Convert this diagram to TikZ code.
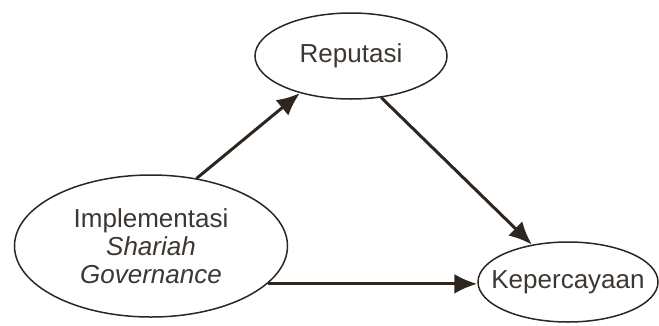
\documentclass[tikz,border=0pt]{standalone}
\usepackage{fontspec}
\setmainfont{Liberation Sans}
\usepackage{tikz}
\usetikzlibrary{shapes.geometric}
\usetikzlibrary{arrows.meta}
\definecolor{brun}{RGB}{45,38,32}
\definecolor{texte}{RGB}{60,55,50}

\begin{document}
\begin{tikzpicture}[x=1pt,y=-1pt,
  bulle/.style={ellipse, draw=brun, line width=1.5pt, inner sep=0pt, text=texte,
    align=center, font=\fontsize{26}{28}\selectfont},
  fleche/.style={line width=3pt, brun, ->, >={Latex[length=23pt,width=20pt]}}]
\useasboundingbox (0,0) rectangle (659,325);
\node [bulle, minimum width=192pt, minimum height=86pt] (rep) at (351,56) {Reputasi};
\node [bulle, minimum width=273pt, minimum height=142pt] (imp) at (151,246)
  {Implementasi\\\textit{Shariah}\\\textit{Governance}};
\node [bulle, minimum width=180pt, minimum height=80pt, inner xsep=-20pt] (kep) at (568,282) {Kepercayaan};
\draw [fleche] (imp.56) -- (rep.216);
\draw [fleche] (rep.-54) -- (kep.134);
\draw [fleche] (imp.-18) -- (imp.-18 -| kep.west);
\end{tikzpicture}
\end{document}
